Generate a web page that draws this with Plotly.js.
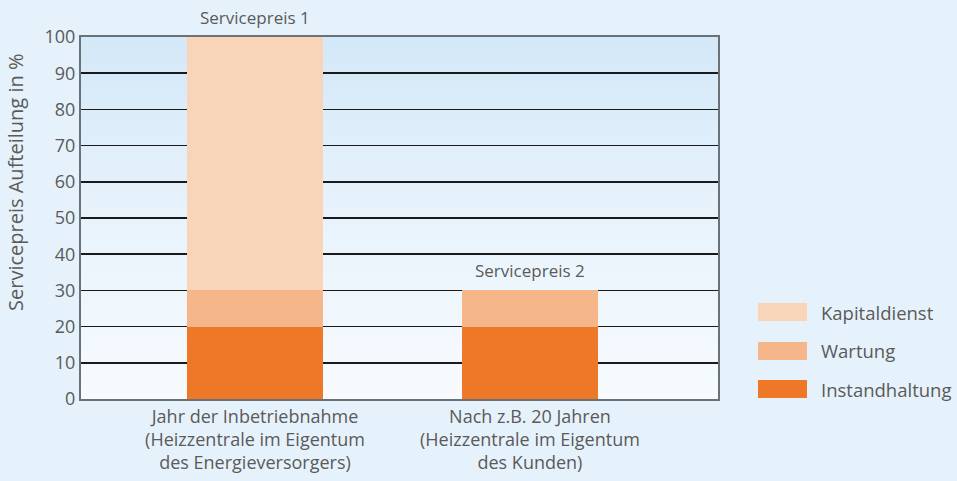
<!DOCTYPE html>
<html>
<head>
<meta charset="utf-8">
<script src="https://cdn.plot.ly/plotly-3.0.1.min.js"></script>
<style>html,body{margin:0;padding:0;background:#e6f2fb;}</style>
</head>
<body>
<div id="chart" style="width:957px;height:481px;"></div>
<script>
const categories = ['Jahr der Inbetriebnahme<br>(Heizzentrale im Eigentum<br>des Energieversorgers)',
                    'Nach z.B. 20 Jahren<br>(Heizzentrale im Eigentum<br>des Kunden)'];
const seriesNames = ['Instandhaltung', 'Wartung', 'Kapitaldienst'];
const instandhaltung = [20, 20];
const wartung = [10, 10];
const kapitaldienst = [70, 0];
const totalLabels = ['Servicepreis 1', 'Servicepreis 2'];
const yTicks = [0, 10, 20, 30, 40, 50, 60, 70, 80, 90, 100];

const colors = ['#ef7828', '#f5b68a', '#f8d4b8'];
const values = [instandhaltung, wartung, kapitaldienst];
const xIdx = categories.map((c, i) => i);

const traces = seriesNames.map((n, k) => ({
  type: 'bar', name: n, x: xIdx, y: values[k],
  marker: {color: colors[k], line: {width: 0}},
  width: 0.495, hoverinfo: 'none'
}));

const totals = xIdx.map(i => values.reduce((s, v) => s + v[i], 0));
const font = {family: 'Open Sans, sans-serif', color: '#5a5a5a'};

const annotations = totalLabels.map((t, i) => ({
  x: i, y: totals[i], xref: 'x', yref: 'y', text: t, showarrow: false,
  yanchor: 'bottom', yshift: 6, font: Object.assign({size: 17}, font)
}));

annotations.push({
  x: -0.102, y: 0.597, xref: 'paper', yref: 'paper', text: 'Servicepreis Aufteilung in %',
  textangle: -90, showarrow: false, xanchor: 'center', yanchor: 'middle',
  font: Object.assign({size: 20}, font)
});

// custom legend
const shapes = [];
const legY = [0.2403, 0.1326, 0.0276];
const legOrder = [2, 1, 0];
legOrder.forEach((k, j) => {
  shapes.push({type: 'rect', xref: 'paper', yref: 'paper', x0: 1.0628, x1: 1.1397,
    y0: legY[j] - 0.0249, y1: legY[j] + 0.0249, fillcolor: colors[k], line: {width: 0}});
  annotations.push({x: 1.158, y: legY[j], xref: 'paper', yref: 'paper', text: seriesNames[k],
    showarrow: false, xanchor: 'left', yanchor: 'middle', font: Object.assign({size: 18.5}, font)});
});

const grad = 'data:image/svg+xml;utf8,' + encodeURIComponent(
  '<svg xmlns="http://www.w3.org/2000/svg" width="100" height="100" preserveAspectRatio="none">' +
  '<defs><linearGradient id="g" x1="0" y1="0" x2="0" y2="1">' +
  '<stop offset="0" stop-color="#d3e8f8"/><stop offset="0.55" stop-color="#eaf4fc"/>' +
  '<stop offset="1" stop-color="#f7fbfe"/></linearGradient></defs>' +
  '<rect width="100" height="100" fill="url(#g)"/></svg>');

const layout = {
  width: 957, height: 481,
  margin: {l: 81, r: 239, t: 37, b: 82},
  paper_bgcolor: '#e6f2fb', plot_bgcolor: 'rgba(0,0,0,0)',
  barmode: 'stack', showlegend: false,
  font: font,
  xaxis: {range: [-0.633, 1.684], tickvals: xIdx, ticktext: categories,
    showgrid: false, zeroline: false, showline: true, mirror: true,
    linecolor: '#6b7277', linewidth: 2, ticks: '', tickfont: Object.assign({size: 18}, font),
    fixedrange: true},
  yaxis: {range: [0, 100], tickvals: yTicks, showgrid: true, gridcolor: '#1a1a1a', gridwidth: 1.5,
    zeroline: false, showline: true, mirror: true, linecolor: '#6b7277', linewidth: 2,
    ticks: '', ticklen: 0, tickfont: Object.assign({size: 18}, font), fixedrange: true},
  images: [{source: grad, xref: 'paper', yref: 'paper', x: 0, y: 1, sizex: 1, sizey: 1,
    sizing: 'stretch', xanchor: 'left', yanchor: 'top', layer: 'below'}],
  annotations: annotations, shapes: shapes
};

Plotly.newPlot('chart', traces, layout, {displayModeBar: false, staticPlot: true});
</script>
</body>
</html>
